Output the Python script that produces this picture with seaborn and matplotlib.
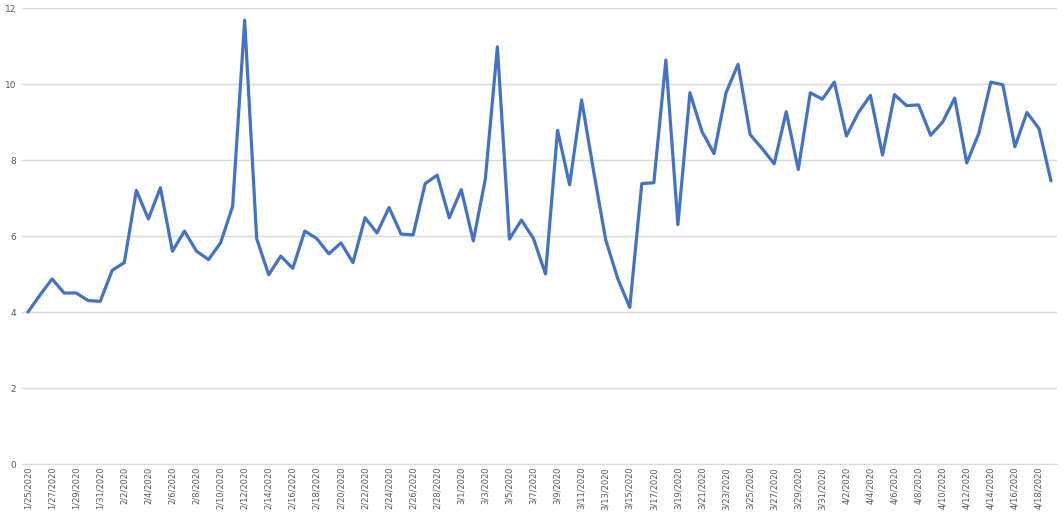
import numpy as np
import pandas as pd
import matplotlib
matplotlib.use('Agg')
import matplotlib.pyplot as plt
import seaborn as sns

# daily values, 1/25/2020 .. 4/19/2020
jan = [4.0, 4.45, 4.87, 4.5, 4.5, 4.3, 4.28]
feb = [5.1, 5.3, 7.2, 6.45, 7.27, 5.6, 6.13, 5.6, 5.38, 5.82, 6.78, 11.68, 5.93, 4.98, 5.47,
       5.15, 6.13, 5.93, 5.53, 5.82, 5.3, 6.48, 6.08, 6.75, 6.05, 6.03, 7.38, 7.6, 6.48]
mar = [7.22, 5.87, 7.5, 10.98, 5.92, 6.42, 5.93, 5.0, 8.78, 7.35, 9.58, 7.7, 5.9, 4.88, 4.12,
       7.38, 7.4, 10.63, 6.3, 9.77, 8.75, 8.17, 9.77, 10.52, 8.67, 8.3, 7.9, 9.27, 7.75, 9.77, 9.6]
apr = [10.05, 8.63, 9.25, 9.7, 8.13, 9.72, 9.43, 9.45, 8.65, 9.0, 9.63, 7.92, 8.7, 10.05,
       9.98, 8.35, 9.25, 8.83, 7.45]

values = jan + feb + mar + apr
dates = pd.date_range('2020-01-25', periods=len(values), freq='D')
labels = [f'{d.month}/{d.day}/{d.year}' for d in dates]
df = pd.DataFrame({'idx': np.arange(len(values)), 'value': values})

sns.set_style('white')
fig = plt.figure(figsize=(10.64, 5.14), dpi=100)
ax = fig.add_axes([22 / 1064, 50 / 514, 1035 / 1064, 456 / 514])

sns.lineplot(data=df, x='idx', y='value', ax=ax, color='#4472C4', linewidth=2.3)

ax.set_xlim(-0.5, len(values) - 0.5)
ax.set_ylim(0, 12)
ax.set_yticks(range(0, 13, 2))
ax.set_xticks(np.arange(0, len(values), 2))
ax.set_xticklabels(labels[::2], rotation=90, fontsize=6, color='#595959')
ax.tick_params(axis='y', labelsize=6.5, colors='#595959', length=0, pad=4)
ax.tick_params(axis='x', length=0, pad=2)
ax.set_xticks(np.arange(-0.5, len(values), 2), minor=True)
ax.tick_params(axis='x', which='minor', length=4, color='#d9d9d9')
ax.grid(axis='y', color='#d9d9d9', linewidth=1)
ax.set_xlabel('')
ax.set_ylabel('')
for s in ['top', 'right', 'left']:
    ax.spines[s].set_visible(False)
ax.spines['bottom'].set_color('#d9d9d9')

fig.savefig('out.png', dpi=100)
